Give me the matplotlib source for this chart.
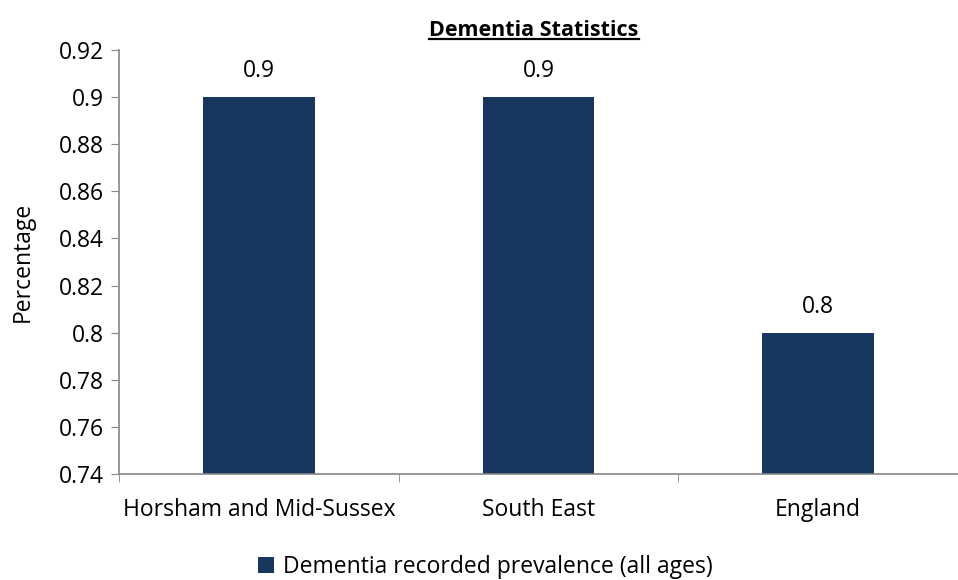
import matplotlib
matplotlib.use("Agg")
import matplotlib.pyplot as plt
from matplotlib.lines import Line2D

# data
categories = ["Horsham and Mid-Sussex", "South East", "England"]
values = [0.9, 0.9, 0.8]
series_name = "Dementia recorded prevalence (all ages)"
yticks = [0.74, 0.76, 0.78, 0.80, 0.82, 0.84, 0.86, 0.88, 0.90, 0.92]
ytick_labels = ["0.74", "0.76", "0.78", "0.8", "0.82", "0.84", "0.86", "0.88", "0.9", "0.92"]

plt.rcParams["font.family"] = ["Open Sans", "DejaVu Sans"]
bar_color = "#17375e"
axis_grey = "#868686"
fs = 16.5

fig = plt.figure(figsize=(9.58, 5.8), dpi=100)
ax = fig.add_axes([119/958, 1-474/580, 839/958, 424/580])

x = list(range(len(categories)))
bars = ax.bar(x, values, width=0.4, color=bar_color, label=series_name, zorder=2)
ax.set_xlim(-0.5, len(categories) - 0.5)
ax.set_ylim(0.74, 0.92)
ax.set_yticks(yticks)
ax.set_yticklabels(ytick_labels, fontsize=fs)

# value labels above bars
for xi, v in zip(x, values):
    ax.text(xi, v + 0.011, f"{v:g}", ha="center", va="center", fontsize=fs)

# category labels, ticks at boundaries
ax.set_xticks(x)
ax.set_xticklabels(categories, fontsize=fs)
ax.tick_params(axis="x", length=0, pad=17)
ax.set_xticks([i - 0.5 for i in range(len(categories) + 1)], minor=True)
ax.tick_params(axis="x", which="minor", length=6, color=axis_grey, direction="out")
ax.tick_params(axis="y", length=6, color=axis_grey, direction="out", pad=5)

for s in ["top", "right"]:
    ax.spines[s].set_visible(False)
for s in ["left", "bottom"]:
    ax.spines[s].set_color(axis_grey)
    ax.spines[s].set_linewidth(1.2)

ax.set_ylabel("Percentage", fontsize=fs, labelpad=17)

# title, bold and underlined
title = fig.text(534/958, 1-30/580, "Dementia Statistics", ha="center", va="center",
                 fontsize=15.5, fontweight="bold")
fig.canvas.draw()
bb = title.get_window_extent().transformed(fig.transFigure.inverted())
fig.add_artist(Line2D([bb.x0, bb.x1], [bb.y0 + 0.002, bb.y0 + 0.002],
                      transform=fig.transFigure, color="black", linewidth=1.6))

fig.legend(handles=[bars], labels=[series_name], loc="center",
           bbox_to_anchor=(485/958, 1-567/580), frameon=False, fontsize=fs,
           handlelength=0.7, handleheight=0.7, handletextpad=0.4)

fig.savefig("out.png", dpi=100)
